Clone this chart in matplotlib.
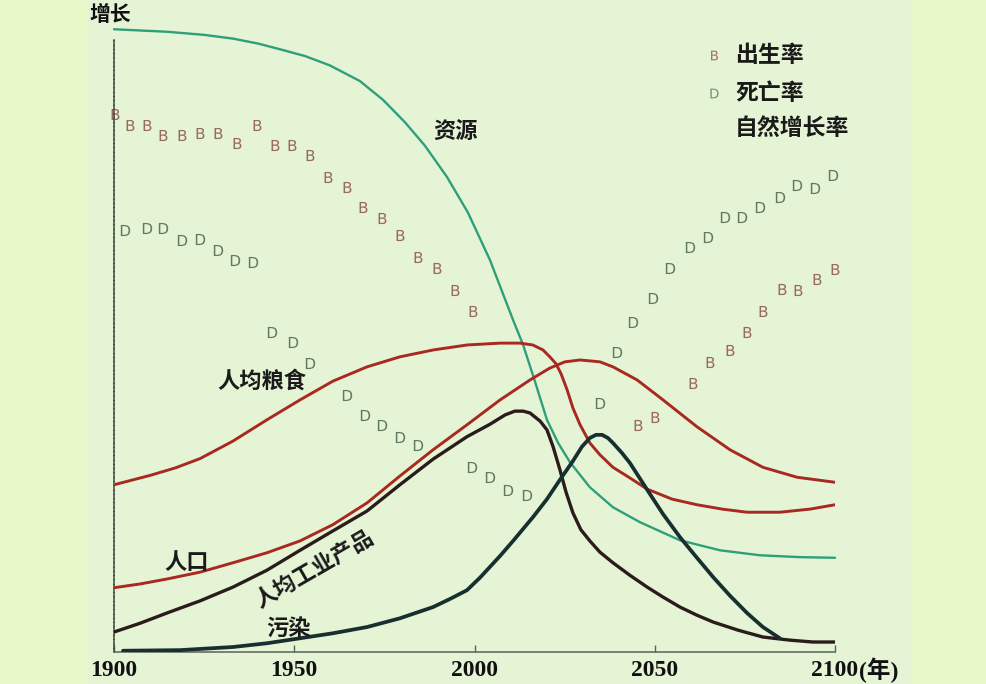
import matplotlib
matplotlib.use("Agg")
import matplotlib.pyplot as plt
from matplotlib.patches import Rectangle

# ---------------- data ----------------
res_years = [1900, 1914.7, 1925, 1933, 1940, 1946, 1953, 1959.9, 1968.2, 1974.6, 1980.7, 1986.3, 1992.4,
             1998.2, 2004.3, 2010.7, 2013.5, 2016.8, 2020.1, 2023.2, 2026.5, 2032, 2038.4, 2045.9,
             2057, 2068.1, 2079.2, 2090.3, 2100]
res_vals = [99.8, 99.4, 98.9, 98.3, 97.5, 96.6, 95.5, 94.0, 91.5, 88.5, 84.9, 81.1, 76.1,
            70.4, 62.8, 53.2, 49.2, 43.3, 37.2, 33.5, 30.4, 26.4, 23.2, 20.8,
            17.9, 16.3, 15.5, 15.2, 15.1]

food_years = [1900, 1910, 1917, 1923.9, 1933, 1942.4, 1951.6, 1960.7, 1970.2, 1979.3, 1988.5, 1997.9,
              2007.1, 2012.6, 2016.2, 2019, 2020.9, 2022.6, 2024, 2025.7, 2027.3, 2029.3, 2032,
              2034.8, 2038.4, 2043.1, 2047.9, 2054.8, 2061.7, 2068.7, 2075.6, 2084.7, 2093.1, 2100]
food_vals = [26.8, 28.3, 29.5, 31.0, 33.8, 37.2, 40.4, 43.4, 45.7, 47.3, 48.4, 49.2,
             49.5, 49.5, 49.2, 48.4, 47.3, 46.2, 44.6, 42.0, 39.1, 36.4, 33.5,
             31.6, 29.6, 27.9, 26.1, 24.5, 23.6, 22.9, 22.4, 22.4, 22.9, 23.6]

pop_years = [1900, 1907.2, 1914.7, 1923.9, 1933, 1942.4, 1951.6, 1960.7, 1970.2, 1979.3, 1988.5,
             1997.9, 2007.1, 2015.4, 2020.9, 2025.1, 2029.3, 2034.8, 2038.4, 2045.1, 2052.3,
             2061.7, 2070.9, 2080, 2089.5, 2100]
pop_vals = [10.3, 10.9, 11.7, 12.8, 14.3, 15.9, 17.8, 20.4, 23.9, 28.2, 32.4,
            36.4, 40.4, 43.6, 45.5, 46.5, 46.8, 46.5, 45.7, 43.6, 40.4,
            36.1, 32.4, 29.6, 28.0, 27.2]

ind_years = [1900, 1907.2, 1914.7, 1923.9, 1933, 1942.4, 1951.6, 1960.7, 1970.2, 1979.3, 1988.5,
             1997.9, 2004.3, 2008.5, 2011.2, 2013.5, 2015.4, 2018.2, 2020.1, 2021.8, 2023.7,
             2025.4, 2027.3, 2029.5, 2032, 2034.8, 2038.4, 2043.1, 2047.9, 2052.3, 2057,
             2061.7, 2066.2, 2073.1, 2080, 2087.5, 2093.9, 2100]
ind_vals = [3.2, 4.6, 6.25, 8.2, 10.4, 13.1, 16.3, 19.4, 22.6, 26.8, 30.9,
            34.5, 36.5, 38.0, 38.6, 38.6, 38.3, 37.0, 35.6, 32.9, 29.2,
            25.6, 22.3, 19.6, 17.8, 16.0, 14.3, 12.3, 10.4, 8.8, 7.2,
            5.9, 4.8, 3.5, 2.4, 1.9, 1.6, 1.6]

pol_years = [1902.5, 1918.3, 1933, 1942.4, 1951.6, 1960.7, 1970.2, 1979.3, 1988.5, 1993.2, 1997.9,
             2001.5, 2007.1, 2010.7, 2016.2, 2020.1, 2023.7, 2027.3, 2029.8, 2032, 2033.7,
             2035.4, 2037, 2038.4, 2040.9, 2043.1, 2047.9, 2052.3, 2057, 2061.7, 2066.2,
             2070.9, 2075.6, 2080, 2084.7]
pol_vals = [0.2, 0.3, 0.8, 1.4, 2.2, 3.0, 4.0, 5.4, 7.2, 8.5, 9.9,
            11.9, 15.4, 17.8, 21.6, 24.5, 27.6, 30.6, 32.9, 34.3, 34.8,
            34.8, 34.3, 33.5, 31.9, 30.3, 26.0, 22.1, 18.4, 15.1, 12.0,
            9.0, 6.25, 4.0, 2.2]

birth_years = [1900.3, 1904.4, 1909.2, 1913.6, 1918.9, 1923.9, 1928.8, 1934.1, 1939.7, 1944.7, 1949.4,
               1954.4, 1959.4, 1964.6, 1969.1, 1974.3, 1979.3, 1984.3, 1989.6, 1994.6, 1999.6,
               2045.4, 2050.1, 2060.6, 2065.3, 2070.9, 2075.6, 2080.0, 2085.3, 2089.7, 2095.0, 2100.0]
birth_vals = [86.2, 84.5, 84.5, 82.9, 82.9, 83.2, 83.2, 81.6, 84.5, 81.3, 81.3,
              79.6, 76.1, 74.5, 71.3, 69.6, 66.8, 63.3, 61.5, 58.0, 54.6,
              36.4, 37.7, 43.1, 46.5, 48.4, 51.3, 54.6, 58.2, 58.0, 59.8, 61.4]

death_years = [1903.1, 1909.2, 1913.6, 1918.9, 1923.9, 1928.8, 1933.6, 1938.6, 1943.8, 1949.7,
               1954.4, 1964.6, 1969.6, 1974.3, 1979.3, 1984.3, 1999.3, 2004.3, 2009.3, 2014.6,
               2034.8, 2039.5, 2044.0, 2049.5, 2054.2, 2059.8, 2064.8, 2069.5, 2074.2, 2079.2,
               2084.7, 2089.5, 2094.5, 2099.4]
death_vals = [67.6, 67.9, 67.9, 66.0, 66.2, 64.4, 62.8, 62.5, 51.3, 49.7,
              46.3, 41.2, 38.0, 36.4, 34.5, 33.2, 29.6, 28.0, 26.0, 25.2,
              39.9, 48.1, 52.9, 56.7, 61.5, 64.9, 66.5, 69.7, 69.7, 71.3,
              72.9, 74.8, 74.4, 76.4]

x_ticks = [1900, 1950, 2000, 2050, 2100]
x_labels = ["1900", "1950", "2000", "2050", "2100"]
legend_labels = ["出生率", "死亡率", "自然增长率"]

# ---------------- style ----------------
CJK = ["Noto Sans CJK SC", "DejaVu Sans"]
SERIF = ["Liberation Serif", "Noto Sans CJK SC"]
plt.rcParams["font.family"] = CJK

W, H = 987, 684
fig = plt.figure(figsize=(W / 100, H / 100), dpi=100)
fig.patch.set_facecolor("#e7f7c7")

# background panel (behind everything)
bg = fig.add_axes([0, 0, 1, 1], zorder=-10)
bg.set_axis_off()
bg.set_xlim(0, 1)
bg.set_ylim(0, 1)
bg.add_patch(Rectangle((88 / W, 0), (912 - 88) / W, 1, facecolor="#e6f4d6", edgecolor="none"))

ax = fig.add_axes([114 / W, (684 - 652) / H, 721 / W, 624 / H], zorder=1)
ax.set_facecolor("none")
ax.set_xlim(1900, 2100)
ax.set_ylim(0, 100)

for s in ["top", "right"]:
    ax.spines[s].set_visible(False)
ax.spines["left"].set_bounds(0, 98)
ax.spines["left"].set_linestyle((0, (2, 0.8)))
ax.spines["left"].set_color("#3d4a40")
ax.spines["left"].set_linewidth(1.1)
ax.spines["bottom"].set_color("#56635a")
ax.spines["bottom"].set_linewidth(1.1)

ax.set_yticks([])
ax.set_xticks(x_ticks)
ax.set_xticklabels(x_labels, fontfamily=SERIF, fontweight="bold", fontsize=17, color="#111111")
ax.tick_params(axis="x", direction="in", length=5, width=1, color="#56635a", pad=6)

# curves
common = dict(zorder=3, solid_joinstyle="round", solid_capstyle="round")
ax.plot(res_years, res_vals, color="#2f9f79", lw=1.7, clip_on=False, **common)
ax.plot(food_years, food_vals, color="#a8291f", lw=2.1, **common)
ax.plot(pop_years, pop_vals, color="#a8291f", lw=2.1, **common)
ax.plot(ind_years, ind_vals, color="#2b1c1c", lw=2.4, **common)
ax.plot(pol_years, pol_vals, color="#17302f", lw=2.7, **common)

# birth / death markers
ax.plot(birth_years, birth_vals, ls="none", marker=r"$\mathsf{B}$", ms=8,
        color="#9a6a60", mew=0, zorder=2, clip_on=False)
ax.plot(death_years, death_vals, ls="none", marker=r"$\mathsf{D}$", ms=8,
        color="#5f7a62", mew=0, zorder=2, clip_on=False)

# legend (drawn manually like the original)
lx_m = (714 - 114) / 721
lx_t = (735 - 114) / 721
ly = [(652 - 55) / 624, (652 - 93) / 624, (652 - 128) / 624]
ax.plot([lx_m], [ly[0]], transform=ax.transAxes, ls="none", marker=r"$\mathsf{B}$", ms=7,
        color="#a07060", mew=0, clip_on=False)
ax.plot([lx_m], [ly[1]], transform=ax.transAxes, ls="none", marker=r"$\mathsf{D}$", ms=7,
        color="#6f8f72", mew=0, clip_on=False)
for y, t in zip(ly, legend_labels):
    ax.text(lx_t, y, t, transform=ax.transAxes, ha="left", va="center",
            fontsize=16.5, fontweight="bold", color="#1a1a1a")

# curve labels
lab = dict(fontsize=16, fontweight="bold", color="#1a1a1a", ha="center", va="center")
ax.text(1994.6, 83.5, "资源", **lab)
ax.text(1941.1, 43.4, "人均粮食", **lab)
ax.text(1920.2, 14.3, "人口", **lab)
ax.text(1955.6, 13.2, "人均工业产品", rotation=30, rotation_mode="anchor", **lab)
ax.text(1948.3, 3.8, "污染", **lab)

# axis titles
ax.text(-0.005, 1.022, "增长", transform=ax.transAxes, ha="center", va="center",
        fontsize=15, fontweight="bold", color="#111111", clip_on=False)
ax.text(2106.6, -3.0, "(年)", ha="left", va="center", fontfamily=SERIF, fontsize=17,
        fontweight="bold", color="#111111", clip_on=False)

fig.savefig("out.png", dpi=100, facecolor=fig.get_facecolor())
